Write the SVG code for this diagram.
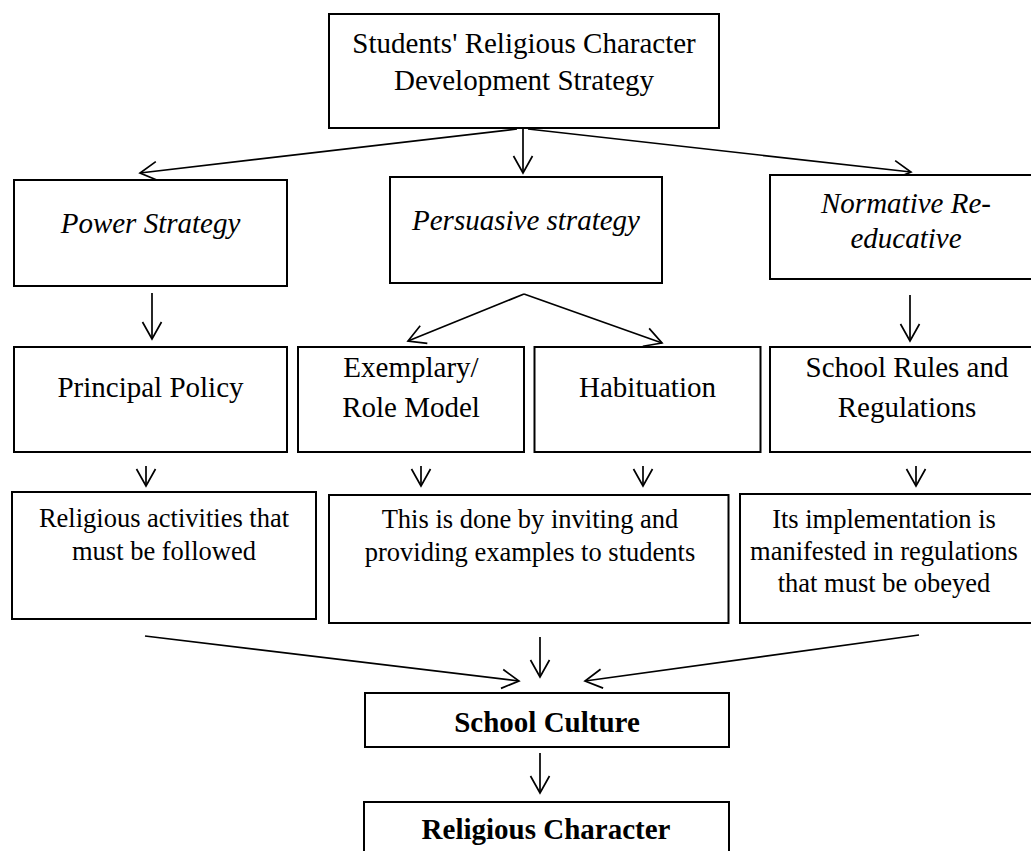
<svg xmlns="http://www.w3.org/2000/svg" width="1031" height="851" viewBox="0 0 1031 851">
<style>
.box{fill:#fff;stroke:#000;stroke-width:2}
.t{font-family:"Liberation Serif","Times New Roman",serif;font-size:29px;fill:#000;text-anchor:middle}
.s{font-size:26.5px}
.i{font-style:italic}
.b{font-weight:bold}
.c{fill:none;stroke:#000;stroke-width:1.7}
</style>
<defs>
<marker id="arr" markerUnits="userSpaceOnUse" orient="auto" refX="0" refY="0" markerWidth="1" markerHeight="1" overflow="visible">
<path d="M-17,-9.5 L0,0 L-17,9.5" fill="none" stroke="#000" stroke-width="1.7"/>
</marker>
</defs>
<rect width="1031" height="851" fill="#fff"/>

<g id="connectors">
<line class="c" x1="517" y1="129" x2="140" y2="173" marker-end="url(#arr)"/>
<line class="c" x1="523" y1="129" x2="523" y2="173" marker-end="url(#arr)"/>
<line class="c" x1="528" y1="129" x2="911" y2="172" marker-end="url(#arr)"/>
<line class="c" x1="152" y1="293" x2="152" y2="339" marker-end="url(#arr)"/>
<line class="c" x1="524" y1="294" x2="408" y2="341" marker-end="url(#arr)"/>
<line class="c" x1="524" y1="294" x2="662" y2="343" marker-end="url(#arr)"/>
<line class="c" x1="910" y1="295" x2="910" y2="341" marker-end="url(#arr)"/>
<line class="c" x1="146" y1="466" x2="146" y2="486" marker-end="url(#arr)"/>
<line class="c" x1="421" y1="466" x2="421" y2="486" marker-end="url(#arr)"/>
<line class="c" x1="643" y1="466" x2="643" y2="486" marker-end="url(#arr)"/>
<line class="c" x1="916" y1="466" x2="916" y2="486" marker-end="url(#arr)"/>
<line class="c" x1="145" y1="636" x2="519" y2="681" marker-end="url(#arr)"/>
<line class="c" x1="540" y1="637" x2="540" y2="677" marker-end="url(#arr)"/>
<line class="c" x1="919" y1="635" x2="585" y2="681" marker-end="url(#arr)"/>
<line class="c" x1="540" y1="753" x2="540" y2="793" marker-end="url(#arr)"/>
</g>

<g id="top">
<rect class="box" x="329" y="14" width="390" height="114"/>
<text class="t" x="524" y="53">Students' Religious Character</text>
<text class="t" x="524" y="90">Development Strategy</text>
</g>

<g id="power">
<rect class="box" x="14" y="180" width="273" height="106"/>
<text class="t i" x="150.5" y="233">Power Strategy</text>
</g>
<g id="persuasive">
<rect class="box" x="390" y="177" width="272" height="106"/>
<text class="t i" x="526" y="230">Persuasive strategy</text>
</g>
<g id="normative">
<rect class="box" x="770" y="175" width="272" height="104"/>
<text class="t i" x="906" y="213">Normative Re-</text>
<text class="t i" x="906" y="248">educative</text>
</g>

<g id="principal">
<rect class="box" x="14" y="347" width="273" height="105"/>
<text class="t" x="150.5" y="397">Principal Policy</text>
</g>
<g id="exemplary">
<rect class="box" x="298" y="347" width="226" height="105"/>
<text class="t" x="411" y="377">Exemplary/</text>
<text class="t" x="411" y="417">Role Model</text>
</g>
<g id="habituation">
<rect class="box" x="534.5" y="347" width="226" height="105"/>
<text class="t" x="647.5" y="397">Habituation</text>
</g>
<g id="rules">
<rect class="box" x="770" y="347" width="272" height="105"/>
<text class="t" x="907" y="377">School Rules and</text>
<text class="t" x="907" y="417">Regulations</text>
</g>

<g id="activities">
<rect class="box" x="12" y="492" width="304" height="127"/>
<text class="t s" x="164" y="527">Religious activities that</text>
<text class="t s" x="164" y="560">must be followed</text>
</g>
<g id="inviting">
<rect class="box" x="329" y="495" width="399.5" height="128"/>
<text class="t s" x="530" y="528">This is done by inviting and</text>
<text class="t s" x="530" y="561">providing examples to students</text>
</g>
<g id="implementation">
<rect class="box" x="740" y="494" width="295" height="129"/>
<text class="t s" x="884" y="528">Its implementation is</text>
<text class="t s" x="884" y="560">manifested in regulations</text>
<text class="t s" x="884" y="592">that must be obeyed</text>
</g>

<g id="culture">
<rect class="box" x="365" y="693" width="364" height="54"/>
<text class="t b" x="547" y="732">School Culture</text>
</g>
<g id="character">
<rect class="box" x="364" y="802" width="365" height="70"/>
<text class="t b" x="546" y="839">Religious Character</text>
</g>
</svg>
